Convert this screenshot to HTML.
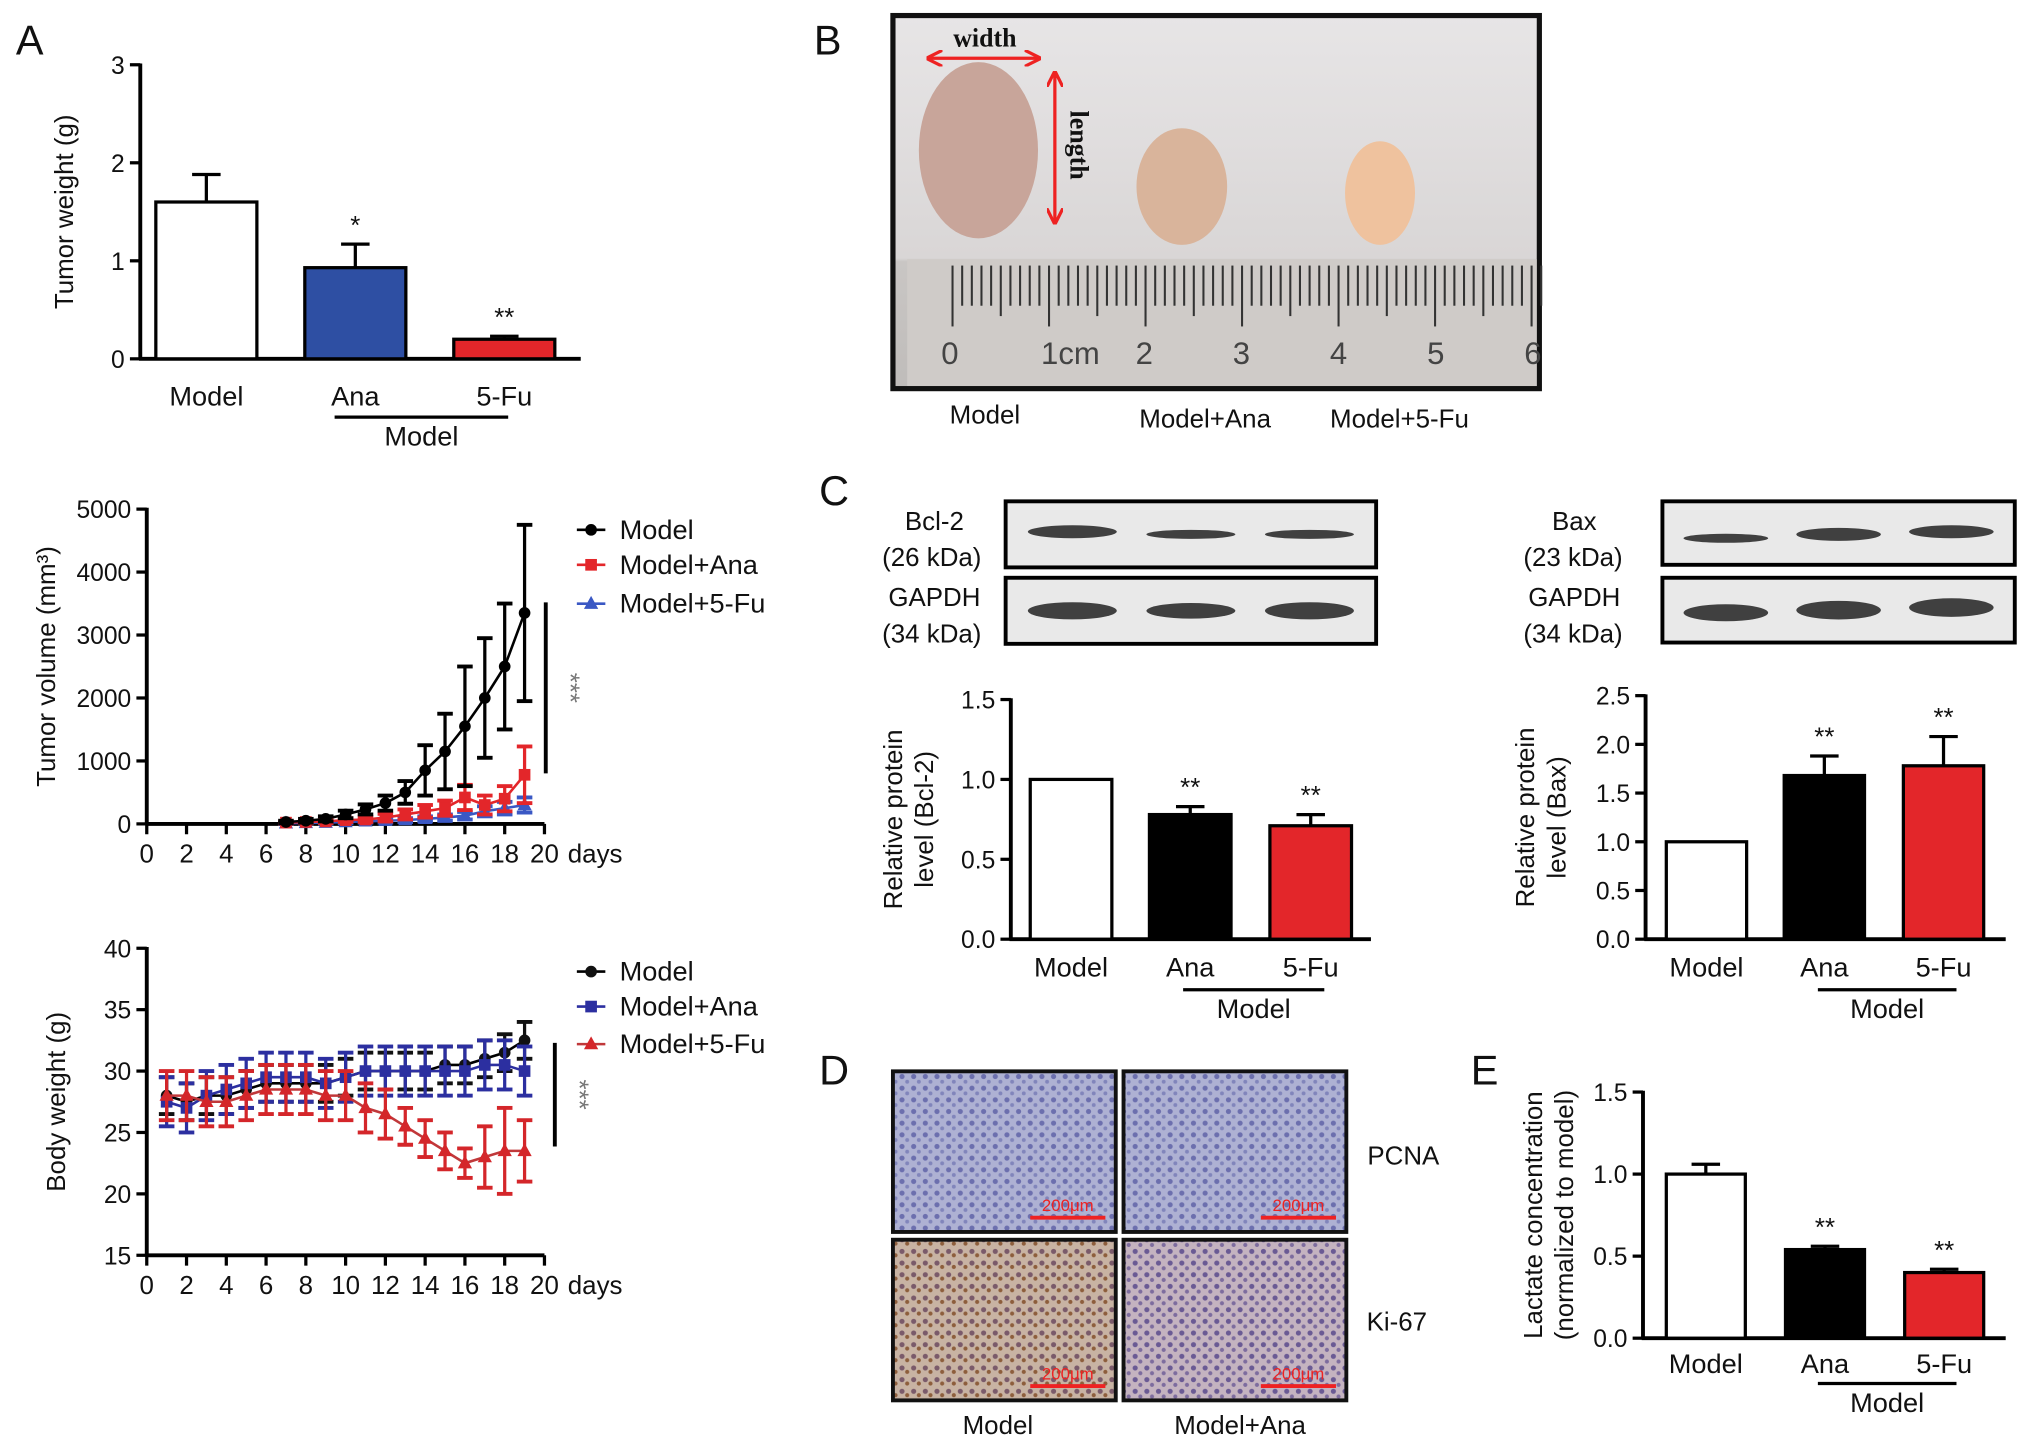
<!DOCTYPE html>
<html><head><meta charset="utf-8"><style>
html,body{margin:0;padding:0;background:#fff}
svg{display:block;font-family:"Liberation Sans",Arial,sans-serif}
</style></head><body>
<svg id="fig" width="2032" height="1447" viewBox="0 0 1568 1117" xmlns="http://www.w3.org/2000/svg">
<defs>
<linearGradient id="photoBg" x1="0" y1="0" x2="0" y2="1"><stop offset="0" stop-color="#e7e5e6"/><stop offset="0.65" stop-color="#d9d6d6"/><stop offset="0.66" stop-color="#c9c6c4"/><stop offset="1" stop-color="#bfbcba"/></linearGradient>
<pattern id="ihc1" width="9" height="9" patternUnits="userSpaceOnUse"><rect width="9" height="9" fill="#aeb1d3"/><circle cx="3" cy="3" r="2" fill="#6c6fae"/><circle cx="7" cy="7" r="1.5" fill="#8185bb"/></pattern>
<pattern id="ihc2" width="9" height="9" patternUnits="userSpaceOnUse"><rect width="9" height="9" fill="#c8b3a3"/><circle cx="3" cy="3" r="2" fill="#7a5a6a"/><circle cx="7" cy="6" r="1.6" fill="#8d5e3c"/></pattern>
<pattern id="ihc3" width="9" height="9" patternUnits="userSpaceOnUse"><rect width="9" height="9" fill="#c4b3c0"/><circle cx="3" cy="3" r="2" fill="#6a5a94"/><circle cx="7" cy="7" r="1.6" fill="#7d6c9e"/></pattern>
<marker id="arr" viewBox="0 0 10 10" refX="9" refY="5" markerWidth="5" markerHeight="5" orient="auto-start-reverse"><path d="M0 0 L10 5 L0 10" fill="none" stroke="#e22" stroke-width="2"/></marker>
</defs>
<g id="root"></g>
</svg>
<script>
// ---- data ----
const twCats = ["Model","Ana","5-Fu"];
const twVals = [1.6, 0.93, 0.2];
const twErr = [0.28, 0.24, 0.03];
const days = [7,8,9,10,11,12,13,14,15,16,17,18,19];
const volModel = [30,50,80,150,230,330,500,850,1150,1550,2000,2500,3350];
const volModelErr = [20,30,40,60,80,120,180,400,600,950,950,1000,1400];
const volAna = [20,30,40,60,70,100,150,200,250,420,300,400,780];
const volAnaErr = [15,20,25,30,40,60,80,100,120,200,150,200,450];
const volFu = [10,15,20,30,40,50,60,80,100,130,200,250,300];
const volFuErr = [10,10,15,20,20,30,30,40,50,60,80,100,120];
const bwDays = [1,2,3,4,5,6,7,8,9,10,11,12,13,14,15,16,17,18,19];
const bwModel = [28,27.5,28,28,28.5,29,29,29,29,29.5,30,30,30,30,30.5,30.5,31,31.5,32.5];
const bwAna = [27.5,27,28,28.5,29,29.5,29.5,29.5,29,29.5,30,30,30,30,30,30,30.5,30.5,30];
const bwFu = [28,28,27.5,27.5,28,28.5,28.5,28.5,28,28,27,26.5,25.5,24.5,23.5,22.5,23,23.5,23.5];
const bwErr = [2,2,2,2,2,2,2,2,2,2,2,2,1.5,1.5,1.5,1.2,2.5,3.5,2.5];
const bclVals = [1.0,0.78,0.71];
const bclErr = [0,0.05,0.07];
const baxVals = [1.0,1.68,1.78];
const baxErr = [0,0.2,0.3];
const lacVals = [1.0,0.54,0.40];
const lacErr = [0.06,0.02,0.02];
const volTicks = [0,1000,2000,3000,4000,5000];
const bwTicks = [15,20,25,30,35,40];
const dayTicks = [0,2,4,6,8,10,12,14,16,18,20];

const NS="http://www.w3.org/2000/svg";
const root=document.getElementById('root');
function el(tag,attrs,parent,text){const e=document.createElementNS(NS,tag);for(const k in attrs)e.setAttribute(k,attrs[k]);if(text!==undefined)e.textContent=text;(parent||root).appendChild(e);return e;}
function txt(x,y,s,size,parent,anchor,extra){return el('text',Object.assign({x:x,y:y,'font-size':size,'text-anchor':anchor||'middle',fill:'#111'},extra||{}),parent,s);}
function grp(name){const g=el('g',{});return g;}

[["A",12,42],["B",628,42],["C",632,390],["D",632,837],["E",1135,837]].forEach(l=>{const t=txt(l[1],l[2],l[0],32,root,'start');});

function barChart(name,o){
  const g=grp(name);
  const y=v=>o.y0-(v-o.vmin)/(o.vmax-o.vmin)*(o.y0-o.y1);
  el('line',{x1:o.ax,y1:o.y1-1,x2:o.ax,y2:o.y0+1,stroke:'#000','stroke-width':3},g);
  el('line',{x1:o.ax-1,y1:o.y0,x2:o.xEnd,y2:o.y0,stroke:'#000','stroke-width':3},g);
  o.ticks.forEach(t=>{el('line',{x1:o.ax-8,y1:y(t),x2:o.ax,y2:y(t),stroke:'#000','stroke-width':2.5},g);txt(o.ax-12,y(t)+7,o.tickFmt?o.tickFmt(t):t,19,g,'end');});
  o.vals.forEach((v,i)=>{
    const bx=o.bx[i];
    const eTop=y(v+o.err[i]);
    if(o.err[i]>0){el('line',{x1:bx+o.bw/2,y1:y(v),x2:bx+o.bw/2,y2:eTop,stroke:'#000','stroke-width':2.5},g);el('line',{x1:bx+o.bw/2-11,y1:eTop,x2:bx+o.bw/2+11,y2:eTop,stroke:'#000','stroke-width':2.5},g);}
    const r=el('rect',{x:bx,y:y(v),width:o.bw,height:o.y0-y(v),fill:o.colors[i],stroke:'#000','stroke-width':2.5},g);
    
    
    if(o.stars[i])txt(bx+o.bw/2,eTop-8,o.stars[i],20,g);
    txt(bx+o.bw/2,o.labY,o.cats[i],21,g);
  });
  el('line',{x1:o.ul[0],y1:o.ul[2],x2:o.ul[1],y2:o.ul[2],stroke:'#000','stroke-width':2.5},g);
  txt((o.ul[0]+o.ul[1])/2,o.ul[2]+22,'Model',21,g);
  o.ylab.forEach((s,i)=>{txt(o.ylx[i],(o.y0+o.y1)/2,s,20,g,'middle',{transform:`rotate(-90 ${o.ylx[i]} ${(o.y0+o.y1)/2})`});});
  return g;
}
barChart('tumor-weight-chart',{ax:108,y0:277,y1:50,vmin:0,vmax:3,xEnd:448,ticks:[0,1,2,3],vals:twVals,err:twErr,cats:twCats,bx:[120,235,350],bw:78,colors:['#fff','#2e4fa3','#e3262a'],stars:['','*','**'],labY:313,ul:[258,392,322],ylab:['Tumor weight (g)'],ylx:[56]});
barChart('bcl2-chart',{ax:780,y0:725,y1:540,vmin:0,vmax:1.5,xEnd:1058,ticks:[0,0.5,1,1.5],tickFmt:t=>t.toFixed(1),vals:bclVals,err:bclErr,cats:twCats,bx:[795,887,980],bw:63,colors:['#fff','#000','#e3262a'],stars:['','**','**'],labY:754,ul:[913,1022,764],ylab:['Relative protein','level (Bcl-2)'],ylx:[696,720]});
barChart('bax-chart',{ax:1270,y0:725,y1:537,vmin:0,vmax:2.5,xEnd:1548,ticks:[0,0.5,1,1.5,2,2.5],tickFmt:t=>t.toFixed(1),vals:baxVals,err:baxErr,cats:twCats,bx:[1286,1377,1469],bw:62,colors:['#fff','#000','#e3262a'],stars:['','**','**'],labY:754,ul:[1403,1510,764],ylab:['Relative protein','level (Bax)'],ylx:[1184,1208]});
barChart('lactate-chart',{ax:1268,y0:1033,y1:843,vmin:0,vmax:1.5,xEnd:1548,ticks:[0,0.5,1,1.5],tickFmt:t=>t.toFixed(1),vals:lacVals,err:lacErr,cats:twCats,bx:[1286,1378,1470],bw:61,colors:['#fff','#000','#e3262a'],stars:['','**','**'],labY:1060,ul:[1403,1510,1068],ylab:['Lactate concentration','(normalized to model)'],ylx:[1190,1214]});

function marker(k,cx,cy,c,p){if(k==='c')el('circle',{cx:cx,cy:cy,r:4.5,fill:c},p);else if(k==='s')el('rect',{x:cx-4.5,y:cy-4.5,width:9,height:9,fill:c},p);else el('polygon',{points:`${cx},${cy-6} ${cx-5.5},${cy+4} ${cx+5.5},${cy+4}`,fill:c},p);}
function lineChart(name,o){
  const g=grp(name);
  const x=d=>o.ax+d*(o.xr-o.ax)/20;
  const y=v=>o.y0-(v-o.vmin)/(o.vmax-o.vmin)*(o.y0-o.y1);
  el('line',{x1:o.ax,y1:o.y1-1,x2:o.ax,y2:o.y0+1,stroke:'#000','stroke-width':3},g);
  el('line',{x1:o.ax-1,y1:o.y0,x2:o.xr,y2:o.y0,stroke:'#000','stroke-width':3},g);
  o.yt.forEach(t=>{el('line',{x1:o.ax-8,y1:y(t),x2:o.ax,y2:y(t),stroke:'#000','stroke-width':2.5},g);txt(o.ax-12,y(t)+7,t,19,g,'end');});
  dayTicks.forEach(d=>{el('line',{x1:x(d),y1:o.y0,x2:x(d),y2:o.y0+8,stroke:'#000','stroke-width':2.5},g);txt(x(d),o.y0+30,d,20,g);});
  txt(o.xr+18,o.y0+30,'days',20,g,'start');
  o.series.forEach(s=>{
    const sg=el('g',{},g);
    
    
    const pts=s.vals.map((v,i)=>x(s.days[i])+','+y(v)).join(' ');
    el('polyline',{points:pts,fill:'none',stroke:s.line,'stroke-width':2},sg);
    s.vals.forEach((v,i)=>{const cx=x(s.days[i]);const hi=y(v+s.err[i]),lo=y(Math.max(o.vmin,v-s.err[i]));
      el('line',{x1:cx,y1:hi,x2:cx,y2:lo,stroke:s.color,'stroke-width':2.5},sg);
      el('line',{x1:cx-6,y1:hi,x2:cx+6,y2:hi,stroke:s.color,'stroke-width':3},sg);
      el('line',{x1:cx-6,y1:lo,x2:cx+6,y2:lo,stroke:s.color,'stroke-width':3},sg);
      marker(s.mk,cx,y(v),s.color,sg);});
  });
  o.legend.forEach((i,k)=>{const s=o.series[i];const ly=o.legY[k];const lg=el('g',{},g);
    el('line',{x1:o.legX,y1:ly,x2:o.legX+22,y2:ly,stroke:s.line,'stroke-width':2},lg);marker(s.mk,o.legX+11,ly,s.color,lg);txt(o.legX+33,ly+7,s.name,21,lg,'start');});
  el('line',{x1:o.sig[0],y1:o.sig[1],x2:o.sig[0],y2:o.sig[2],stroke:'#000','stroke-width':3},g);
  const sy=(o.sig[1]+o.sig[2])/2;txt(o.sig[0]+12,sy,'***',20,g,'middle',{fill:'#777',transform:`rotate(90 ${o.sig[0]+12} ${sy})`});
  txt(o.ylx,(o.y0+o.y1)/2,o.ylab,20,g,'middle',{transform:`rotate(-90 ${o.ylx} ${(o.y0+o.y1)/2})`});
  return g;
}
lineChart('tumor-volume-chart',{ax:113,xr:420,y0:636,y1:393,vmin:0,vmax:5000,yt:volTicks,ylab:'Tumor volume (mm³)',ylx:42,legX:445,legY:[409,436,466],legend:[2,1,0],sig:[421,465,597],
 series:[{name:'Model+5-Fu',days:days,vals:volFu,err:volFuErr,color:'#3a58c4',line:'#3a58c4',mk:'t'},{name:'Model+Ana',days:days,vals:volAna,err:volAnaErr,color:'#e3262a',line:'#e3262a',mk:'s'},{name:'Model',days:days,vals:volModel,err:volModelErr,color:'#000',line:'#000',mk:'c'}]});
lineChart('body-weight-chart',{ax:113,xr:420,y0:969,y1:732,vmin:15,vmax:40,yt:bwTicks,ylab:'Body weight (g)',ylx:50,legX:445,legY:[750,777,806],legend:[0,1,2],sig:[428,805,885],
 series:[{name:'Model',days:bwDays,vals:bwModel,err:bwErr.map(()=>1.5),color:'#111',line:'#000',mk:'c'},{name:'Model+Ana',days:bwDays,vals:bwAna,err:bwErr.map(()=>2),color:'#2c2fa0',line:'#2c2fa0',mk:'s'},{name:'Model+5-Fu',days:bwDays,vals:bwFu,err:bwErr,color:'#d4262a',line:'#c0383a',mk:'t'}]});

(function(){const g=grp('tumor-photo');
 el('rect',{x:689,y:12,width:499,height:288,fill:'url(#photoBg)',stroke:'#111','stroke-width':4},g);
 el('path',{d:'M700 200 L1186 200 L1186 298 L700 298 Z',fill:'#cfcbc8'},g);
 for(let i=0;i<62;i++){const xx=735+i*7.45;el('line',{x1:xx,y1:205,x2:xx,y2:i%10===0?252:(i%5===0?244:236),stroke:'#333','stroke-width':1.6},g);}
 ['0','1cm','2','3','4','5','6'].forEach((s,i)=>txt(733+i*75+(i===1?18:0),281,s,24,g,'middle',{fill:'#444'}));
 el('ellipse',{cx:755,cy:116,rx:46,ry:68,fill:'#c8a59a'},g);
 el('ellipse',{cx:912,cy:144,rx:35,ry:45,fill:'#d9b49b'},g);
 el('ellipse',{cx:1065,cy:149,rx:27,ry:40,fill:'#efc29e'},g);
 el('line',{x1:716,y1:45,x2:802,y2:45,stroke:'#e22','stroke-width':2.5,'marker-start':'url(#arr)','marker-end':'url(#arr)'},g);
 el('line',{x1:814,y1:56,x2:814,y2:172,stroke:'#e22','stroke-width':2.5,'marker-start':'url(#arr)','marker-end':'url(#arr)'},g);
 txt(760,36,'width',20,g,'middle',{'font-family':'Liberation Serif','font-weight':'bold'});
 txt(826,112,'length',20,g,'middle',{'font-family':'Liberation Serif','font-weight':'bold',transform:'rotate(90 826 112)'});
 txt(760,327,'Model',20,g);txt(930,330,'Model+Ana',20,g);txt(1080,330,'Model+5-Fu',20,g);})();

function blot(name,x,yy,w,h,bands,thick){const g=grp(name);el('rect',{x:x,y:yy,width:w,height:h,fill:'#e9e9e9',stroke:'#000','stroke-width':3},g);
 bands.forEach((b,i)=>el('ellipse',{cx:x+w*(0.18+i*0.32),cy:yy+h/2+b[1],rx:w*0.12,ry:thick*b[0],fill:'#222',opacity:0.85},g));}
blot('bcl2-blot',776,387,286,51,[[1,-2],[0.7,0],[0.7,0]],5);
blot('gapdh-blot-left',776,446,286,51,[[1.1,0],[1,0],[1.1,0]],6);
blot('bax-blot',1283,387,272,49,[[0.7,4],[1,1],[1,-1]],5);
blot('gapdh-blot-right',1283,446,272,50,[[1.1,2],[1.2,0],[1.2,-2]],6);
(function(){const g=grp('blot-labels');
 [['Bcl-2',721,402],['(26 kDa)',719,430],['GAPDH',721,461],['(34 kDa)',719,489],['Bax',1215,402],['(23 kDa)',1214,430],['GAPDH',1215,461],['(34 kDa)',1214,489]].forEach(a=>txt(a[1],a[2]+7,a[0],20,g,'middle'));})();

(function(){const g=grp('ihc-images');
 [[689,827,'ihc1'],[867,827,'ihc1'],[689,957,'ihc2'],[867,957,'ihc3']].forEach(a=>{el('rect',{x:a[0],y:a[1],width:172,height:124,fill:`url(#${a[2]})`,stroke:'#111','stroke-width':3},g);
  el('line',{x1:a[0]+106,y1:a[1]+113,x2:a[0]+164,y2:a[1]+113,stroke:'#e22','stroke-width':3},g);txt(a[0]+135,a[1]+108,'200μm',13,g,'middle',{fill:'#e22'});});
 txt(1083,899,'PCNA',20,g);txt(1078,1027,'Ki-67',20,g);txt(770,1107,'Model',20,g);txt(957,1107,'Model+Ana',20,g);})();
</script>
</body></html>
